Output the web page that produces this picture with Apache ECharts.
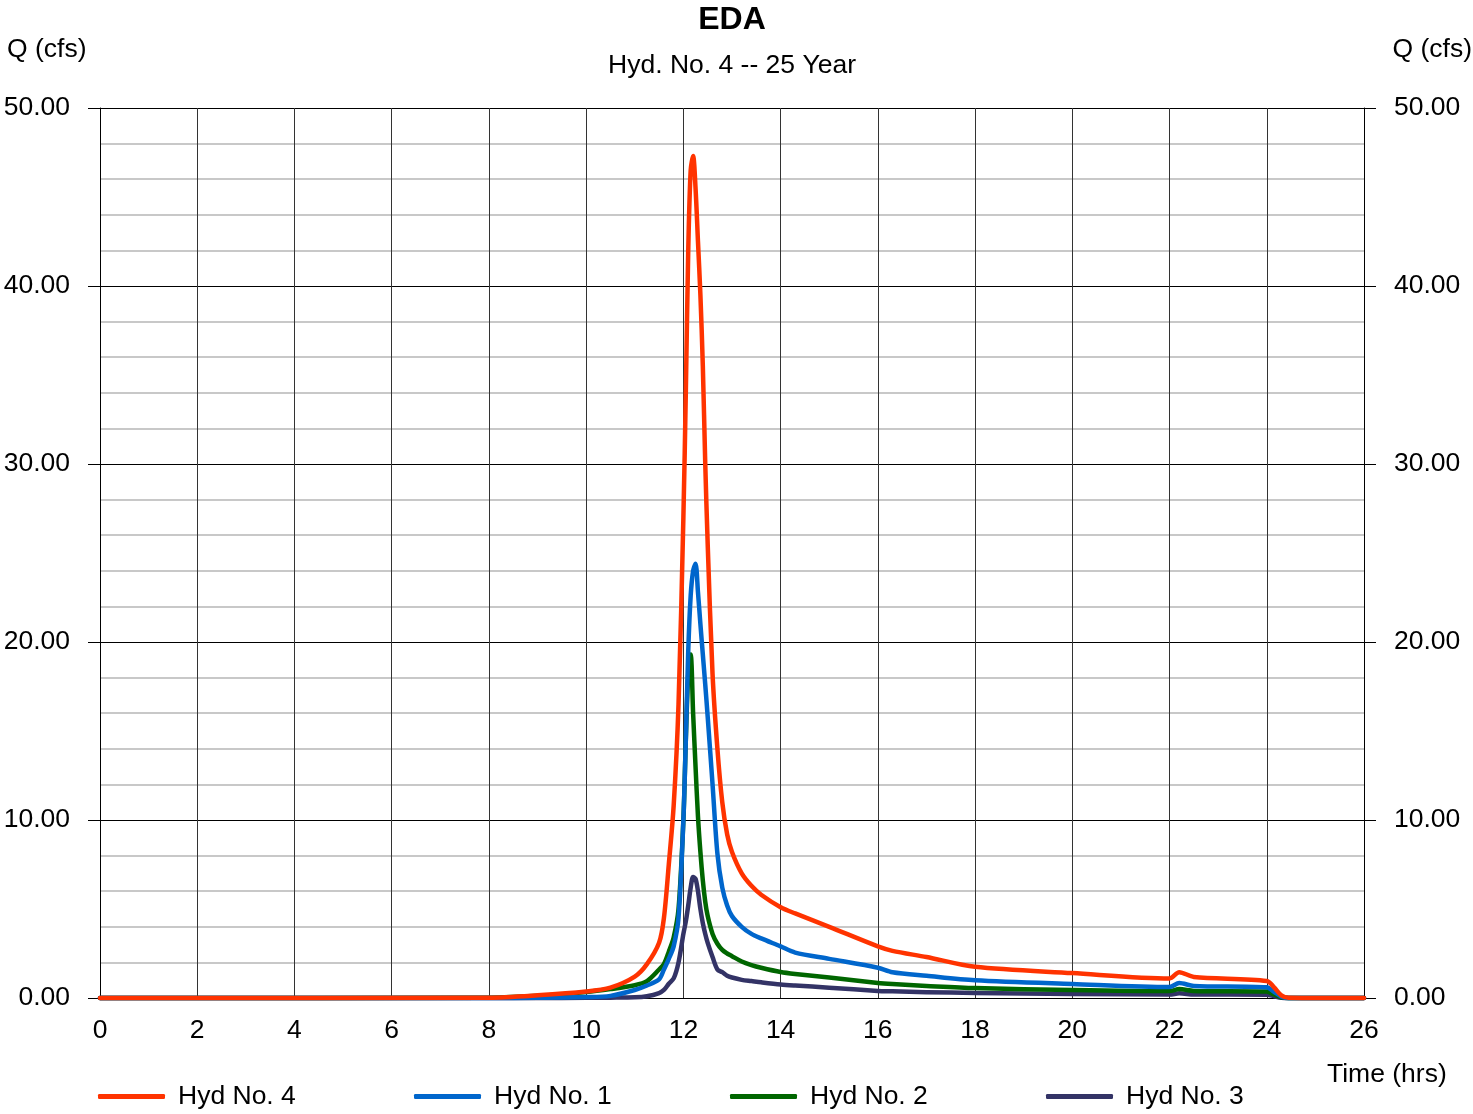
<!DOCTYPE html>
<html>
<head>
<meta charset="utf-8">
<script src="https://cdn.jsdelivr.net/npm/echarts@6/dist/echarts.min.js"></script>
<style>
html,body{margin:0;padding:0;background:#fff;}
#chart{width:1473px;height:1114px;}
</style>
</head>
<body>
<div id="chart"></div>
<script>
// ---- data ----
const timeHrs = [0, 8, 9, 10, 10.5, 11, 11.25, 11.5, 11.6, 11.7, 11.8, 11.9, 12.0, 12.05, 12.1, 12.15, 12.2, 12.25, 12.3, 12.35, 12.4, 12.45, 12.5, 12.6, 12.7, 12.8, 12.9, 13.0, 13.2, 13.4, 13.6, 14.0, 14.3, 15.0, 16.0, 16.3, 17.0, 18.0, 20.0, 22.0, 22.2, 22.5, 24.0, 24.15, 24.3, 24.45, 26];
const hyd4 = [0, 0.02, 0.15, 0.36, 0.58, 1.2, 1.9, 3.1, 4.5, 7.5, 10.8, 16.5, 27, 34, 42, 46.5, 47.3, 45.5, 42.5, 39.5, 35.5, 30, 25.5, 18.2, 14, 11, 9.2, 8.2, 7.0, 6.3, 5.8, 5.1, 4.75, 4.0, 2.9, 2.65, 2.3, 1.75, 1.4, 1.1, 1.45, 1.18, 0.96, 0.6, 0.15, 0.02, 0];
const hyd1 = [0, 0, 0.01, 0.05, 0.12, 0.45, 0.7, 1.05, 1.6, 2.2, 2.9, 4.5, 10, 14.5, 19.5, 22.6, 24.0, 24.4, 22.8, 21.0, 19.3, 17.6, 15.8, 12, 8.1, 6.2, 5.2, 4.6, 4.0, 3.6, 3.35, 2.9, 2.55, 2.2, 1.7, 1.45, 1.25, 1.0, 0.79, 0.62, 0.84, 0.68, 0.6, 0.35, 0.08, 0, 0];
const hyd2 = [0, 0.02, 0.12, 0.33, 0.5, 0.72, 0.95, 1.6, 1.9, 2.6, 3.4, 5.0, 10, 14.5, 18.2, 19.3, 16, 13, 10.2, 8.2, 6.6, 5.4, 4.6, 3.6, 3.05, 2.7, 2.5, 2.35, 2.05, 1.85, 1.7, 1.46, 1.35, 1.15, 0.84, 0.78, 0.68, 0.56, 0.45, 0.39, 0.5, 0.4, 0.36, 0.2, 0.04, 0, 0];
const hyd3 = [0, 0, 0, 0.01, 0.02, 0.04, 0.1, 0.28, 0.45, 0.8, 1.1, 2.0, 3.6, 4.3, 5.2, 6.2, 6.8, 6.7, 6.0, 5.0, 4.2, 3.6, 3.1, 2.3, 1.6, 1.45, 1.25, 1.15, 1.02, 0.95, 0.88, 0.76, 0.7, 0.58, 0.4, 0.38, 0.33, 0.28, 0.22, 0.2, 0.26, 0.2, 0.18, 0.1, 0.02, 0, 0];
const seriesNames = ['Hyd No. 4', 'Hyd No. 1', 'Hyd No. 2', 'Hyd No. 3'];
const xTickLabels = ['0','2','4','6','8','10','12','14','16','18','20','22','24','26'];
const yTickLabels = ['0.00','10.00','20.00','30.00','40.00','50.00'];

// ---- chart ----
const FONT = 'Liberation Sans, Arial, Helvetica, sans-serif';
const FS = 26.5;
const colors = {'Hyd No. 4':'#FF3300','Hyd No. 1':'#0066CC','Hyd No. 2':'#006600','Hyd No. 3':'#333366'};
const valuesByName = {'Hyd No. 4':hyd4,'Hyd No. 1':hyd1,'Hyd No. 2':hyd2,'Hyd No. 3':hyd3};
function pairs(vals){ return timeHrs.map((t,i)=>[t, vals[i]]); }

const chart = echarts.init(document.getElementById('chart'), null, {renderer:'canvas'});
const drawOrder = ['Hyd No. 3','Hyd No. 2','Hyd No. 1','Hyd No. 4'];
const legendLefts = [93, 409, 725, 1041];

const option = {
  backgroundColor:'#ffffff',
  animation:false,
  textStyle:{fontFamily:FONT},
  title:[
    {text:'EDA', left:732, textAlign:'center', top:4, padding:0, textStyle:{fontFamily:FONT,fontSize:32,fontWeight:'bold',color:'#000'}},
    {text:'Hyd. No. 4 -- 25 Year', left:732, textAlign:'center', top:52, padding:0, textStyle:{fontFamily:FONT,fontSize:FS,fontWeight:'normal',color:'#000'}},
    {text:'Q (cfs)', left:7, top:36, padding:0, textStyle:{fontFamily:FONT,fontSize:FS,fontWeight:'normal',color:'#000'}},
    {text:'Q (cfs)', right:1, top:36, padding:0, textStyle:{fontFamily:FONT,fontSize:FS,fontWeight:'normal',color:'#000'}},
    {text:'Time (hrs)', left:1327, top:1061, padding:0, textStyle:{fontFamily:FONT,fontSize:FS,fontWeight:'normal',color:'#000'}}
  ],
  legend: seriesNames.map((n,i)=>({
    data:[n], left:legendLefts[i], top:1078, icon:'roundRect', itemWidth:67, itemHeight:5,
    textStyle:{fontFamily:FONT,fontSize:FS,color:'#000',padding:[0,0,0,8]},
    selectedMode:false
  })),
  grid:{left:100, right:109, top:108, bottom:116, containLabel:false},
  xAxis:{
    type:'value', min:0, max:26, interval:2,
    axisLine:{show:true, lineStyle:{color:'#000', width:1}},
    axisTick:{show:false},
    axisLabel:{margin:19, fontSize:FS, color:'#000', fontFamily:FONT,
      formatter:(v)=>xTickLabels[Math.round(v/2)]},
    splitLine:{show:true, lineStyle:{color:'#333', width:1}}
  },
  yAxis:[
    {
      type:'value', min:0, max:50, interval:10, position:'left',
      axisLine:{show:true, lineStyle:{color:'#000', width:1}},
      axisTick:{show:true, length:12, lineStyle:{color:'#000'}},
      axisLabel:{margin:30, fontSize:FS, color:'#000', fontFamily:FONT,
        formatter:(v)=>yTickLabels[Math.round(v/10)]},
      splitLine:{show:true, lineStyle:{color:'#000', width:1}},
      minorTick:{show:false, splitNumber:5},
      minorSplitLine:{show:true, lineStyle:{color:'#C8C8C8', width:2}}
    },
    {
      type:'value', min:0, max:50, interval:10, position:'right',
      axisLine:{show:true, lineStyle:{color:'#000', width:1}},
      axisTick:{show:true, length:12, lineStyle:{color:'#000'}},
      axisLabel:{margin:30, fontSize:FS, color:'#000', fontFamily:FONT,
        formatter:(v)=>yTickLabels[Math.round(v/10)]},
      splitLine:{show:false}
    }
  ],
  series: drawOrder.map((n)=>({
    name:n, type:'line', yAxisIndex:0, data:pairs(valuesByName[n]),
    showSymbol:false, symbol:'none', smooth:0.3, clip:false,
    lineStyle:{color:colors[n], width:4.5, cap:'round', join:'round'},
    itemStyle:{color:colors[n]}
  }))
};
chart.setOption(option);
</script>
</body>
</html>
